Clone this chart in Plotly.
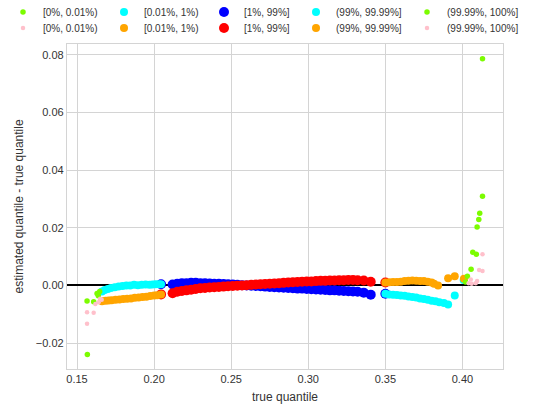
import plotly.graph_objects as go

# ---- data ----
blue_x = [0.2045, 0.212, 0.215, 0.218, 0.221, 0.224, 0.227, 0.230, 0.233, 0.236, 0.239, 0.242, 0.245,
          0.248, 0.251, 0.254, 0.257, 0.260, 0.263, 0.266, 0.269, 0.272, 0.275, 0.278, 0.281,
          0.284, 0.287, 0.290, 0.293, 0.296, 0.299, 0.302, 0.305, 0.308, 0.311, 0.314, 0.317,
          0.320, 0.323, 0.326, 0.329, 0.332, 0.336, 0.3405, 0.3500]
blue_y = [0.0004, 0.0003, 0.0006, 0.0008, 0.0008, 0.0009, 0.0009, 0.0008, 0.0008, 0.0007, 0.0006, 0.0006, 0.0005,
          0.0004, 0.0003, 0.0002, 0.0001, 0.0000, -0.0001, -0.0002, -0.0003, -0.0004, -0.0005, -0.0006, -0.0007,
          -0.0008, -0.0009, -0.0010, -0.0011, -0.0011, -0.0012, -0.0013, -0.0014, -0.0015, -0.0016, -0.0017, -0.0017,
          -0.0018, -0.0019, -0.0020, -0.0021, -0.0022, -0.0025, -0.0032, -0.0029]

red_x = blue_x
red_y = [-0.0031, -0.0027, -0.0022, -0.0019, -0.0017, -0.0015, -0.0012, -0.0010, -0.0009, -0.0007, -0.0006, -0.0005, -0.0004,
         -0.0003, -0.0002, -0.0001, 0.0000, 0.0001, 0.0002, 0.0003, 0.0004, 0.0005, 0.0006, 0.0007, 0.0008,
         0.0009, 0.0010, 0.0011, 0.0012, 0.0013, 0.0014, 0.0014, 0.0015, 0.0016, 0.0016, 0.0017, 0.0017,
         0.0018, 0.0018, 0.0019, 0.0019, 0.0018, 0.0017, 0.0013, 0.0010]

cyan_lo_x = [0.1662, 0.1680, 0.1700, 0.1720, 0.1745, 0.1770, 0.1795, 0.1820, 0.1845, 0.1870, 0.1895,
             0.1920, 0.1945, 0.1970, 0.1990, 0.2010, 0.2030, 0.2045]
cyan_lo_y = [-0.0021, -0.0016, -0.0012, -0.0009, -0.0006, -0.0004, -0.0002, 0.0000, 0.0000, 0.0002, 0.0001,
             0.0002, 0.0003, 0.0002, 0.0003, 0.0004, 0.0004, 0.0004]

orange_lo_x = [0.1662, 0.1685, 0.1705, 0.1725, 0.1750, 0.1775, 0.1800, 0.1825, 0.1850, 0.1875, 0.1900,
               0.1925, 0.1950, 0.1975, 0.2000, 0.2020, 0.2045]
orange_lo_y = [-0.0055, -0.0053, -0.0052, -0.0051, -0.0050, -0.0049, -0.0047, -0.0046, -0.0045, -0.0043, -0.0042,
               -0.0040, -0.0039, -0.0037, -0.0035, -0.0034, -0.0031]

cyan_hi_x = [0.3500, 0.3525, 0.3550, 0.3575, 0.3600, 0.3625, 0.3650, 0.3675, 0.3700, 0.3725, 0.3750,
             0.3775, 0.3800, 0.3825, 0.3850, 0.3880, 0.3907, 0.3950, 0.4008]
cyan_hi_y = [-0.0029, -0.0031, -0.0032, -0.0033, -0.0035, -0.0036, -0.0038, -0.0040, -0.0042, -0.0045, -0.0047,
             -0.0050, -0.0053, -0.0055, -0.0058, -0.0061, -0.0066, -0.0035, 0.0019]

orange_hi_x = [0.3500, 0.3525, 0.3550, 0.3575, 0.3600, 0.3625, 0.3650, 0.3675, 0.3700, 0.3725, 0.3750,
               0.3775, 0.3800, 0.3816, 0.3842, 0.3907, 0.3950, 0.4010]
orange_hi_y = [0.0010, 0.0011, 0.0012, 0.0012, 0.0013, 0.0015, 0.0016, 0.0017, 0.0016, 0.0015, 0.0015,
               0.0013, 0.0010, 0.0006, 0.0000, 0.0025, 0.0032, 0.0023]

green_lo_x = [0.1567, 0.1565, 0.1608, 0.1630, 0.1638, 0.1647]
green_lo_y = [-0.0240, -0.0054, -0.0057, -0.0028, -0.0036, -0.0021]

pink_lo_x = [0.1565, 0.1565, 0.1608, 0.1619, 0.1640, 0.1650, 0.1660]
pink_lo_y = [-0.0133, -0.0093, -0.0095, -0.0064, -0.0058, -0.0046, -0.0050]

green_hi_x = [0.4020, 0.4032, 0.4056, 0.4067, 0.4090, 0.4095, 0.4106, 0.4112, 0.4130, 0.4130]
green_hi_y = [0.0012, 0.0032, 0.0056, 0.0115, 0.0108, 0.0203, 0.0229, 0.0251, 0.0310, 0.0787]

pink_hi_x = [0.4040, 0.4054, 0.4060, 0.4086, 0.4095, 0.4108, 0.4130, 0.4130]
pink_hi_y = [0.0008, 0.0021, 0.0006, 0.0008, 0.0015, 0.0054, 0.0050, 0.0108]

x_ticks = [0.15, 0.20, 0.25, 0.30, 0.35, 0.40]
x_tick_labels = ["0.15", "0.20", "0.25", "0.30", "0.35", "0.40"]
y_ticks = [-0.02, 0.00, 0.02, 0.04, 0.06, 0.08]
y_tick_labels = ["\u22120.02", "0.00", "0.02", "0.04", "0.06", "0.08"]
x_title = "true quantile"
y_title = "estimated quantile - true quantile"

# ---- styling ----
FONT = "Liberation Sans, Arial, sans-serif"
TXT = "#333333"
GRID = "#d4d4d4"
W, H = 558, 409
ML, MR, MT, MB = 67, 55, 44, 40

# (name, x, y, color, size, legend id, legend column px, legend row px)
series = [
    ("[1%, 99%]", blue_x, blue_y, "#0000ff", 10, "legend5", 224, 12),
    ("[1%, 99%]", red_x, red_y, "#ff0000", 10, "legend6", 224, 28),
    ("[0.01%, 1%)", cyan_lo_x, cyan_lo_y, "#00ffff", 8, "legend3", 124, 12),
    ("[0.01%, 1%)", orange_lo_x, orange_lo_y, "#ffa500", 8, "legend4", 124, 28),
    ("(99%, 99.99%]", cyan_hi_x, cyan_hi_y, "#00ffff", 8, "legend7", 316, 12),
    ("(99%, 99.99%]", orange_hi_x, orange_hi_y, "#ffa500", 8, "legend8", 316, 28),
    ("[0%, 0.01%)", green_lo_x, green_lo_y, "#7cfc00", 5.5, "legend", 23, 12),
    ("[0%, 0.01%)", pink_lo_x, pink_lo_y, "#ffc0cb", 4.5, "legend2", 23, 28),
    ("(99.99%, 100%]", green_hi_x, green_hi_y, "#7cfc00", 5.5, "legend9", 427, 12),
    ("(99.99%, 100%]", pink_hi_x, pink_hi_y, "#ffc0cb", 4.5, "legend10", 427, 28),
]

fig = go.Figure()
legend_layout = {}
for name, xs, ys, color, size, lg, col_px, row_px in series:
    fig.add_trace(go.Scatter(
        x=xs, y=ys, mode="markers", name=name, legend=lg,
        marker=dict(color=color, size=size, line=dict(width=0)),
        showlegend=True,
    ))
    legend_layout[lg] = dict(
        x=(col_px - 20) / W, xanchor="left", xref="container",
        y=1 - row_px / H, yanchor="middle", yref="container",
        bgcolor="rgba(0,0,0,0)", borderwidth=0,
        font=dict(family=FONT, size=10, color=TXT),
        itemclick=False, itemdoubleclick=False,
    )

fig.update_layout(
    width=W, height=H,
    margin=dict(l=ML, r=MR, t=MT, b=MB, autoexpand=False),
    paper_bgcolor="white", plot_bgcolor="white",
    font=dict(family=FONT, size=11, color=TXT),
    **legend_layout,
)
fig.add_annotation(
    text=y_title, textangle=-90, showarrow=False,
    xref="paper", x=(18 - ML) / (W - ML - MR), xanchor="center",
    yref="paper", y=0.5, yanchor="middle",
    font=dict(size=12, family=FONT, color=TXT),
)
fig.add_annotation(
    text=x_title, showarrow=False,
    xref="paper", x=0.5, xanchor="center",
    yref="paper", y=-(397 - (H - MB)) / (H - MT - MB), yanchor="middle",
    font=dict(size=12, family=FONT, color=TXT),
)
fig.update_xaxes(
    range=[0.1435, 0.4263], tickvals=x_ticks, ticktext=x_tick_labels,
    showgrid=True, gridcolor=GRID, gridwidth=1,
    showline=True, mirror=True, linecolor=GRID, linewidth=1.3,
    zeroline=False, ticks="", automargin=False,
    tickfont=dict(size=11, family=FONT, color=TXT),
)
fig.update_yaxes(
    range=[-0.029, 0.0838], tickvals=y_ticks, ticktext=y_tick_labels,
    showgrid=True, gridcolor=GRID, gridwidth=1,
    showline=True, mirror=True, linecolor=GRID, linewidth=1.3,
    zeroline=True, zerolinecolor="black", zerolinewidth=2, ticks="", automargin=False,
    tickfont=dict(size=11, family=FONT, color=TXT),
)

fig.write_html("out.html")
